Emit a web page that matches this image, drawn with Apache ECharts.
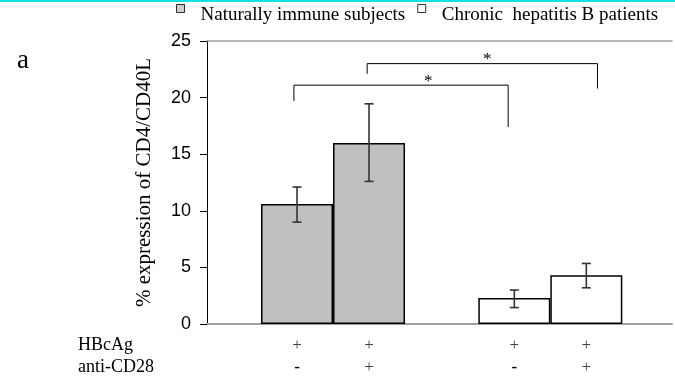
<!DOCTYPE html>
<html>
<head>
<meta charset="utf-8">
<script src="https://cdn.jsdelivr.net/npm/echarts/dist/echarts.min.js"></script>
<style>
  html, body { margin: 0; padding: 0; background: #fff; }
  #chart { width: 675px; height: 380px; }
</style>
</head>
<body>
<div id="chart"></div>
<script>
// groups and their place on the x axis
var groups = ['Naturally immune subjects', 'Chronic  hepatitis B patients'];
var groupX = [1, 2];
// % CD4/CD40L, without / with anti-CD28
var minusCD28 = [10.6, 2.3];
var plusCD28 = [16.0, 4.3];
// error bars [low, high]
var minusErr = [[9.0, 12.1], [1.45, 3.0]];
var plusErr = [[12.6, 19.45], [3.2, 5.35]];
// rows under the axis
var hbcagRow = [['+', '+'], ['+', '+']];
var cd28Row = [['-', '+'], ['-', '+']];
var yTicks = [0, 5, 10, 15, 20, 25];
// significance brackets: left x, right x, top, left leg end, right leg end, star x
var brackets = [
  [0.82, 1.806, 21.1, 19.7, 17.4, 1.438],
  [1.157, 2.217, 23.0, 22.1, 20.8, 1.71]
];

var BAR_W = 72;
var groupColors = ['#c0c0c0', '#ffffff'];
var serif = 'Liberation Serif';
// small square sitting above the text line
var legendIcon = 'path://M0,0H8V8H0Z M0,22L0,22';

var myChart = echarts.init(document.getElementById('chart'));

function barData(vals) {
  return vals.map(function (v, i) {
    return { value: [groupX[i], v], itemStyle: { color: groupColors[i] } };
  });
}

function sign(s) {
  return s === '-' ? '{m|-}' : '{p|+}';
}

function barSeries(name, vals, side) {
  return {
    name: name,
    type: 'bar',
    barWidth: BAR_W,
    barGap: 0,
    data: barData(vals),
    itemStyle: { borderColor: '#000', borderWidth: 1.5 },
    label: {
      show: true,
      position: 'bottom',
      distance: 11,
      fontFamily: serif,
      fontSize: 17,
      lineHeight: 22,
      formatter: function (p) {
        return sign(hbcagRow[p.dataIndex][side]) + '\n' + sign(cd28Row[p.dataIndex][side]);
      },
      rich: {
        p: { fontFamily: serif, fontSize: 17, lineHeight: 22, color: '#444' },
        m: { fontFamily: serif, fontSize: 17, lineHeight: 22, color: '#000', fontWeight: 'bold' }
      }
    },
    emphasis: { disabled: true }
  };
}

var errData = [];
groupX.forEach(function (x, i) {
  errData.push([x, minusErr[i][0], minusErr[i][1], -1]);
  errData.push([x, plusErr[i][0], plusErr[i][1], 1]);
});

myChart.setOption({
  animation: false,
  graphic: [
    { type: 'rect', shape: { x: 0, y: 0, width: 675, height: 2 }, style: { fill: '#12e2e2' } },
    { type: 'text', left: 17, top: 47, style: { text: 'a', fontFamily: serif, fontSize: 27, fill: '#000' } },
    { type: 'text', left: 78, top: 336, style: { text: 'HBcAg', fontFamily: serif, fontSize: 18, fill: '#000' } },
    { type: 'text', left: 78, top: 358, style: { text: 'anti-CD28', fontFamily: serif, fontSize: 18, fill: '#000' } }
  ],
  legend: {
    left: 176,
    top: 4,
    padding: 0,
    itemWidth: 8,
    itemHeight: 22,
    itemGap: 12,
    icon: legendIcon,
    selectedMode: false,
    textStyle: { fontFamily: serif, fontSize: 19, color: '#000', padding: [0, 0, 0, 11] },
    data: [
      { name: groups[0], itemStyle: { color: groupColors[0], borderColor: '#000', borderWidth: 1 } },
      { name: groups[1], itemStyle: { color: groupColors[1], borderColor: '#000', borderWidth: 1 } }
    ]
  },
  grid: { left: 207, right: 3, top: 41, bottom: 56 },
  xAxis: [
    {
      type: 'value', min: 0.42, max: 2.56,
      axisLine: { show: true, onZero: false, lineStyle: { color: '#a0a0a0', width: 2 } },
      axisTick: { show: false }, axisLabel: { show: false }, splitLine: { show: false }
    },
    {
      type: 'value', min: 0.42, max: 2.56, position: 'top',
      axisLine: { show: true, onZero: false, lineStyle: { color: '#a0a0a0', width: 1.5 } },
      axisTick: { show: false }, axisLabel: { show: false }, splitLine: { show: false }
    }
  ],
  yAxis: {
    type: 'value', min: 0, max: 25, interval: 5,
    name: '% expression of CD4/CD40L',
    nameLocation: 'middle',
    nameGap: 52,
    nameTextStyle: { fontFamily: serif, fontSize: 21, color: '#000' },
    axisLine: { show: true, lineStyle: { color: '#000', width: 1 } },
    axisTick: { show: true, length: 7, lineStyle: { color: '#000' } },
    axisLabel: {
      margin: 16, fontFamily: 'Liberation Sans', fontSize: 18, color: '#000',
      formatter: function (v) { return yTicks.indexOf(v) >= 0 ? String(v) : ''; }
    },
    splitLine: { show: false }
  },
  series: [
    { name: groups[0], type: 'scatter', data: [] },
    { name: groups[1], type: 'scatter', data: [] },
    barSeries('minus', minusCD28, 0),
    barSeries('plus', plusCD28, 1),
    {
      type: 'custom',
      z: 5,
      data: errData,
      renderItem: function (params, api) {
        var lo = api.coord([api.value(0), api.value(1)]);
        var hi = api.coord([api.value(0), api.value(2)]);
        var x = lo[0] + api.value(3) * BAR_W / 2;
        var s = { stroke: '#333', lineWidth: 1.6 };
        return {
          type: 'group',
          children: [
            { type: 'line', shape: { x1: x, y1: lo[1], x2: x, y2: hi[1] }, style: s },
            { type: 'line', shape: { x1: x - 4.5, y1: lo[1], x2: x + 4.5, y2: lo[1] }, style: s },
            { type: 'line', shape: { x1: x - 4.5, y1: hi[1], x2: x + 4.5, y2: hi[1] }, style: s }
          ]
        };
      }
    },
    {
      type: 'custom',
      z: 5,
      data: brackets,
      renderItem: function (params, api) {
        var a = api.coord([api.value(0), api.value(3)]);
        var b = api.coord([api.value(0), api.value(2)]);
        var c = api.coord([api.value(1), api.value(2)]);
        var d = api.coord([api.value(1), api.value(4)]);
        var st = api.coord([api.value(5), api.value(2)]);
        return {
          type: 'group',
          children: [
            { type: 'polyline', shape: { points: [a, b, c, d] }, style: { stroke: '#000', lineWidth: 1, fill: null } },
            {
              type: 'text', x: st[0], y: st[1] - 4,
              style: { text: '*', fontFamily: serif, fontSize: 17, fill: '#000', align: 'center', verticalAlign: 'middle' }
            }
          ]
        };
      }
    }
  ]
});
</script>
</body>
</html>
